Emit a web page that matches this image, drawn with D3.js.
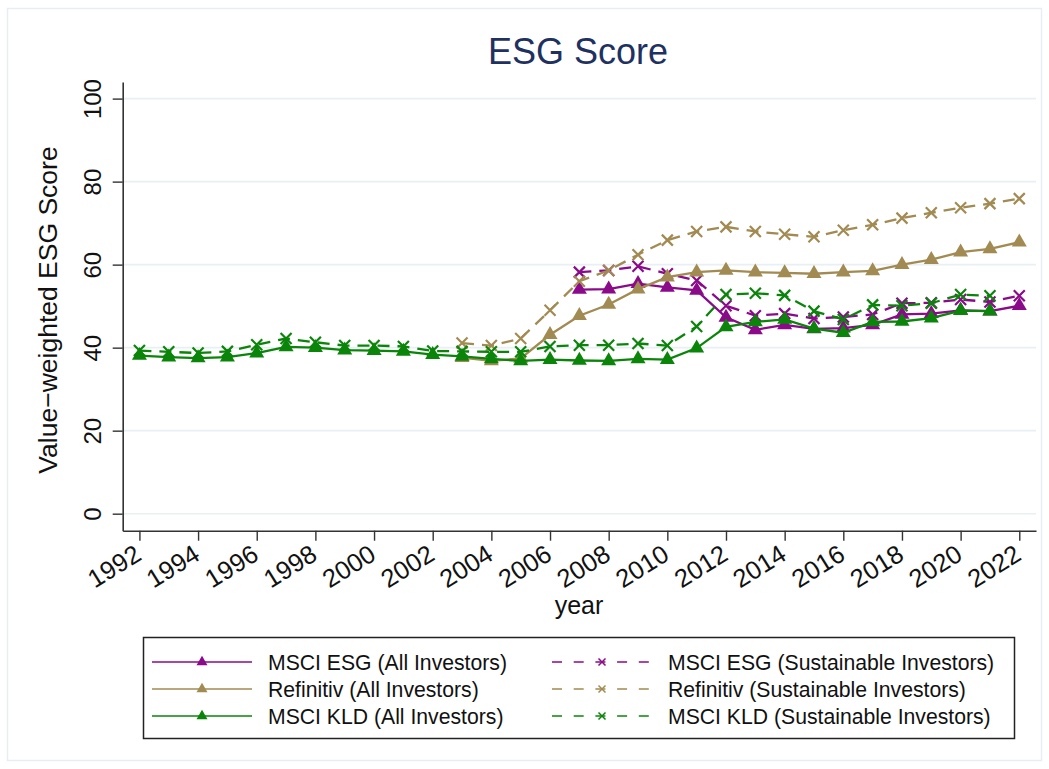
<!DOCTYPE html>
<html>
<head>
<meta charset="utf-8">
<script src="https://cdn.jsdelivr.net/npm/d3@7"></script>
<style>
  body { margin: 0; background: #fff; }
  svg { font-family: 'Liberation Sans', Arial, Helvetica, sans-serif; }
</style>
</head>
<body>
<script>
var years = d3.range(1992, 2023)

// values, indexed from the first year of each series
var esgAllStart = 2007
var esgAll = [54.0, 54.1, 55.4, 54.5, 53.8, 47.3, 44.3, 45.5, 44.5, 44.7, 45.5, 48.0, 48.2, 49.0, 48.8, 50.1]
var esgSustStart = 2007
var esgSust = [58.2, 58.6, 59.6, 57.8, 56.2, 50.1, 47.7, 48.2, 47.0, 47.4, 48.0, 50.7, 50.8, 51.6, 51.0, 52.5]
var refAllStart = 2003
var refAll = [37.6, 36.8, 37.4, 43.1, 47.7, 50.4, 54.1, 57.0, 58.2, 58.6, 58.2, 58.0, 57.8, 58.2, 58.5, 60.0, 61.2, 63.0, 63.8, 65.4]
var refSustStart = 2003
var refSust = [41.1, 40.5, 42.2, 49.0, 56.0, 58.6, 62.4, 65.9, 68.0, 69.1, 68.0, 67.3, 66.7, 68.3, 69.6, 71.2, 72.5, 73.7, 74.7, 75.9]
var kldAllStart = 1992
var kldAll = [38.1, 37.7, 37.5, 37.7, 38.7, 40.2, 40.0, 39.4, 39.3, 39.1, 38.3, 37.9, 37.3, 36.8, 37.1,
    36.9, 36.8, 37.3, 37.1, 39.9, 45.0, 46.2, 46.8, 44.6, 43.6, 46.2, 46.3, 47.1, 48.9, 48.8]
var kldSustStart = 1992
var kldSust = [39.3, 39.0, 38.7, 39.1, 40.7, 42.2, 41.3, 40.5, 40.5, 40.3, 39.2, 39.1, 39.0, 39.0, 40.3,
    40.6, 40.6, 41.0, 40.5, 45.1, 52.8, 53.1, 52.6, 48.8, 46.8, 50.3, 50.1, 50.7, 52.8, 52.5]

var yTicks = [0, 20, 40, 60, 80, 100]
var xTicks = d3.range(1992, 2023, 2)

var purple = '#8a0a8a'
var tan = '#a28b52'
var green = '#0a850a'

// drawing order = legend order (row-wise)
var series = [
    { name: 'MSCI ESG (All Investors)', start: esgAllStart, values: esgAll, color: purple, dashed: false },
    { name: 'MSCI ESG (Sustainable Investors)', start: esgSustStart, values: esgSust, color: purple, dashed: true },
    { name: 'Refinitiv (All Investors)', start: refAllStart, values: refAll, color: tan, dashed: false },
    { name: 'Refinitiv (Sustainable Investors)', start: refSustStart, values: refSust, color: tan, dashed: true },
    { name: 'MSCI KLD (All Investors)', start: kldAllStart, values: kldAll, color: green, dashed: false },
    { name: 'MSCI KLD (Sustainable Investors)', start: kldSustStart, values: kldSust, color: green, dashed: true }
]
series.forEach(function (s) {
    s.points = s.values.map(function (v, i) { return { year: s.start + i, value: v } })
})

var W = 1049, H = 769
var svg = d3.select('body').append('svg').attr('width', W).attr('height', H)

// outer graph frame
svg.append('rect')
    .attr('x', 7.5).attr('y', 8.5).attr('width', 1034).attr('height', 752)
    .attr('fill', 'none').attr('stroke', '#e6eef1').attr('stroke-width', 1.5)

var x = d3.scaleLinear().domain([1991.43, 2022.57]).range([122.7, 1036])
var y = d3.scaleLinear().domain([-4.1, 104]).range([530.7, 82])

// gridlines
svg.append('g').selectAll('line')
    .data(yTicks)
    .enter().append('line')
    .attr('x1', x.range()[0]).attr('x2', x.range()[1])
    .attr('y1', function (d) { return y(d) }).attr('y2', function (d) { return y(d) })
    .attr('stroke', '#e8f0f3').attr('stroke-width', 1.6)

// title
svg.append('text')
    .attr('x', 578).attr('y', 64)
    .attr('text-anchor', 'middle')
    .attr('font-size', 36)
    .attr('fill', '#1e3160')
    .text('ESG Score')

// axes
var yAxis = d3.axisLeft(y).tickValues(yTicks).tickSize(10).tickSizeOuter(0)
var gy = svg.append('g')
    .attr('transform', 'translate(' + x.range()[0] + ',0)')
    .call(yAxis)
gy.selectAll('text')
    .attr('x', 0).attr('y', -22).attr('dy', 0)
    .attr('transform', 'rotate(-90)')
    .attr('text-anchor', 'middle')

var xAxis = d3.axisBottom(x).tickValues(xTicks).tickFormat(d3.format('d')).tickSize(10).tickSizeOuter(0)
var gx = svg.append('g')
    .attr('transform', 'translate(0,' + y.range()[0] + ')')
    .call(xAxis)
gx.selectAll('text')
    .attr('x', 0).attr('y', 0).attr('dy', 0)
    .attr('transform', 'translate(3,28) rotate(-32)')
    .attr('text-anchor', 'end')

svg.selectAll('.domain').attr('stroke', '#333').attr('stroke-width', 1.6)
svg.selectAll('.tick line').attr('stroke', '#333').attr('stroke-width', 1.4)
svg.selectAll('.tick text')
    .attr('font-family', "'Liberation Sans', Arial, sans-serif")
    .attr('font-size', 24).attr('fill', '#111')
gx.selectAll('.tick text').attr('font-size', 25.5)

// axis titles
svg.append('text')
    .attr('transform', 'translate(57,310) rotate(-90)')
    .attr('text-anchor', 'middle')
    .attr('font-size', 26.5).attr('fill', '#111')
    .text('Value\u2212weighted ESG Score')

svg.append('text')
    .attr('x', 579).attr('y', 614)
    .attr('text-anchor', 'middle')
    .attr('font-size', 25).attr('fill', '#111')
    .text('year')

// lines and markers
var line = d3.line()
    .x(function (d) { return x(d.year) })
    .y(function (d) { return y(d.value) })

var tri = d3.symbol().type(d3.symbolTriangle)

function drawMarker(g, s, size) {
    if (s.dashed) {
        var r = size / 2
        g.append('path')
            .attr('d', 'M' + (-r) + ',' + (-r) + 'L' + r + ',' + r + 'M' + (-r) + ',' + r + 'L' + r + ',' + (-r))
            .attr('stroke', s.color).attr('stroke-width', size > 8 ? 2.2 : 1.5).attr('fill', 'none')
    } else {
        g.append('path')
            .attr('d', tri.size(size * size * 0.433)())
            .attr('fill', s.color)
    }
}

var plot = svg.append('g')
series.forEach(function (s) {
    var g = plot.append('g')
    g.append('path')
        .datum(s.points)
        .attr('d', line)
        .attr('fill', 'none')
        .attr('stroke', s.color)
        .attr('stroke-width', 2.3)
        .attr('stroke-dasharray', s.dashed ? '12,8' : null)
    s.points.forEach(function (p) {
        var m = g.append('g').attr('transform', 'translate(' + x(p.year) + ',' + y(p.value) + ')')
        drawMarker(m, s, s.dashed ? 11 : 15)
    })
})

// legend
var legend = svg.append('g')
legend.append('rect')
    .attr('x', 143.5).attr('y', 637.5).attr('width', 871).attr('height', 101)
    .attr('fill', '#fff').attr('stroke', '#222').attr('stroke-width', 1.5)

var colX = [152, 552]
var rowY = [662, 689, 716]
series.forEach(function (s, i) {
    var cx = colX[i % 2]
    var cy = rowY[Math.floor(i / 2)]
    var item = legend.append('g').attr('transform', 'translate(' + cx + ',' + cy + ')')
    item.append('line')
        .attr('x1', 0).attr('x2', 100).attr('y1', 0).attr('y2', 0)
        .attr('stroke', s.color).attr('stroke-width', 1.3)
        .attr('stroke-dasharray', s.dashed ? '10,11.7' : null)
    var m = item.append('g').attr('transform', 'translate(50,0)')
    drawMarker(m, s, s.dashed ? 7 : 11)
    item.append('text')
        .attr('x', 116).attr('y', 7.5)
        .attr('font-size', 21.2).attr('fill', '#111')
        .text(s.name)
})
</script>
</body>
</html>
